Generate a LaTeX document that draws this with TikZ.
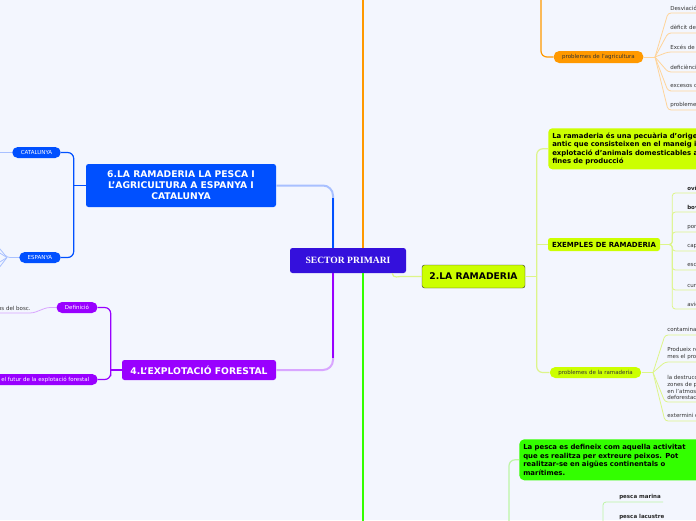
\documentclass[tikz,border=0pt]{standalone}
\usepackage{fontspec}
\setmainfont{Liberation Serif}
\setsansfont{DejaVu Sans}
\usetikzlibrary{positioning}

\definecolor{bgcol}{HTML}{F3F6FE}
\definecolor{spcol}{HTML}{3410DC}
\definecolor{orcol}{HTML}{FF9900}
\definecolor{orlight}{HTML}{FFD49A}
\definecolor{blcol}{HTML}{0050FF}
\definecolor{bllight}{HTML}{A8C0FF}
\definecolor{pucol}{HTML}{9900FF}
\definecolor{pulight}{HTML}{D9A6FF}
\definecolor{licol}{HTML}{CCFF00}
\definecolor{lilight}{HTML}{DDF58A}
\definecolor{grcol}{HTML}{33FF00}
\definecolor{grlight}{HTML}{BDF5A5}
\definecolor{txtcol}{HTML}{333333}

\begin{document}
\begin{tikzpicture}[x=1pt, y=-1pt, semithick,
                    topic/.style = {rounded corners=2.5pt,
                                    inner sep=0pt,
                                    align=center,
                                    text=white,
                                    font=\sffamily\bfseries\fontsize{9.2}{11}\selectfont},
                    sub/.style = {rounded corners=5.5pt,
                                  inner xsep=8.5pt,
                                  inner ysep=0pt,
                                  minimum height=11pt,
                                  text=white,
                                  font=\sffamily\fontsize{5.5}{6.6}\selectfont},
                    defbox/.style = {rounded corners=4pt,
                                     anchor=north west,
                                     inner xsep=4pt,
                                     inner ysep=3pt,
                                     minimum height=41pt,
                                     text width=200pt,
                                     align=left,
                                     text=black,
                                     font=\sffamily\bfseries\fontsize{6.9}{8.5}\selectfont},
                    leaf/.style = {anchor=south west,
                                   inner xsep=2pt,
                                   inner ysep=2pt,
                                   align=left,
                                   text=txtcol,
                                   font=\sffamily\fontsize{5.5}{6.6}\selectfont},
                    boldleaf/.style = {leaf, text=black!85,
                                       font=\sffamily\bfseries\fontsize{5.5}{6.6}\selectfont},
                    mainline/.style = {line width=2pt, rounded corners=10pt},
                    subline/.style = {line width=1.2pt, rounded corners=6pt},
                    leafline/.style = {line width=0.8pt, rounded corners=3pt}]

\useasboundingbox (0,0) rectangle (696,520);
\clip (0,0) rectangle (696,520);
\fill[bgcol] (0,0) rectangle (696,520);

\node[topic, fill=spcol, minimum width=116pt, minimum height=25pt,
      font=\rmfamily\bfseries\fontsize{9.6}{11}\selectfont] (sp) at (348,260.5) {SECTOR PRIMARI};

\node[topic, fill=licol, draw=black!80, thin, text=black,
      minimum width=103pt, minimum height=23pt] (ram) at (473.5,276.5) {2.LA RAMADERIA};
\node[topic, fill=blcol, minimum width=190pt, minimum height=43pt] (esp6) at (181,185.5)
     {6.LA RAMADERIA LA PESCA I\\L'AGRICULTURA A ESPANYA I\\CATALUNYA};
\node[topic, fill=pucol, minimum width=154pt, minimum height=20pt] (for) at (199,370) {4.L'EXPLOTACIÓ FORESTAL};

\node[defbox, fill=licol] (rdef) at (548,128)
     {La ramaderia és una pecuària d'origen\\antic que consisteixen en el maneig i\\explotació d'animals domesticables amb\\fines de producció};
\node[topic, fill=licol, text=black, minimum width=112pt, minimum height=13pt,
      font=\sffamily\bfseries\fontsize{7}{8}\selectfont] (rex) at (604,244.5) {EXEMPLES DE RAMADERIA};
\node[sub, fill=licol, text=txtcol] (rprob) at (595.5,372.5) {problemes de la ramaderia};
\node[sub, fill=orcol, text=txtcol, minimum height=12pt] (agr) at (598.5,57) {problemes de l'agricultura};
\node[defbox, fill=grcol, rounded corners=5pt] (pdef) at (519,439)
     {La pesca es defineix com aquella activitat\\que es realitza per extreure peixos. Pot\\realitzar-se en aigües continentals o\\marítimes.};

\node[sub, fill=blcol] (cat) at (36.5,152.5) {CATALUNYA};
\node[sub, fill=blcol] (esp) at (40,257.5) {ESPANYA};
\node[sub, fill=pucol] (def) at (77,307.5) {Definició};
\node[sub, fill=pucol, anchor=east] (fut) at (98,379.5) {el futur de la explotació forestal};

\node[leaf] (a1) at (668,13) {Desviació de rius};
\node[leaf] (a2) at (668,33) {dèficit de aigua};
\node[leaf] (a3) at (668,52) {Excés de fertilitzants};
\node[leaf] (a4) at (668,72) {deficiència de nutrients};
\node[leaf] (a5) at (668,91) {excesos de pesticides};
\node[leaf] (a6) at (668,110) {problemes del sòl};

\node[boldleaf] (e1) at (685,193) {oví};
\node[boldleaf] (e2) at (685,212) {boví};
\node[leaf] (e3) at (685,232) {porcí};
\node[leaf] (e4) at (685,251) {caprí};
\node[leaf] (e5) at (685,270) {escargols};
\node[leaf] (e6) at (685,290) {cunicultura};
\node[leaf] (e7) at (685,309) {avicultura};

\node[leaf] (r1) at (665,335) {contaminació de l'aigua};
\node[leaf] (r2) at (665,362) {Produeix residus\\mes el problema};
\node[leaf] (r3) at (665,402) {la destrucció de\\zones de pastura\\en l'atmosfera\\deforestació};
\node[leaf] (r4) at (665,421) {extermini d'espècies};

\node[boldleaf] (p1) at (617,502) {pesca marina};
\node[boldleaf] (p2) at (617,522) {pesca lacustre};

\node[leaf, anchor=south east] (bosc) at (33,313) {recursos del bosc.};

\coordinate (ortop) at (363,-5);
\coordinate (grbot) at (363,525);
\coordinate (agrtop) at (541,-5);
\coordinate (pbot) at (509,525);
\coordinate (tbot) at (603,525);
\coordinate (agrfan) at (655,57);
\coordinate (rpfan) at (653,372.5);
\coordinate (catl) at (-5,152.5);
\coordinate (espfan) at (7,257.5);
\coordinate (esp1) at (-5,243);
\coordinate (esp2) at (-5,250);
\coordinate (esp3) at (-5,265);
\coordinate (esp4) at (-5,273);

\draw[mainline, orcol] ([xshift=15pt]sp.north) -- (ortop);
\draw[mainline, grcol] ([xshift=15pt]sp.south) -- (grbot);
\draw[mainline, bllight] (esp6.east) -| ([xshift=-15pt]sp.north);
\draw[mainline, blcol] ([xshift=-15pt]sp.north) -- ++(0,-50);
\draw[mainline, pulight] (for.east) -| ([xshift=-15pt]sp.south);
\draw[mainline, pucol] ([xshift=-15pt]sp.south) -- ++(0,85);
\draw[subline, lilight] ([xshift=-14pt]sp.south east) to[out=-90, in=180] ([xshift=-16pt]ram.west) -- (ram.west);

\draw[subline, orcol] (agrtop) |- (agr.west);
\draw[leafline, orlight] (agr.east) -- (agrfan);
\draw[leafline, orlight] (agrfan) -- (a1.south west) -- (a1.south east);
\draw[leafline, orlight] (agrfan) -- (a2.south west) -- (a2.south east);
\draw[leafline, orlight] (agrfan) -- (a3.south west) -- (a3.south east);
\draw[leafline, orlight] (agrfan) -- (a4.south west) -- (a4.south east);
\draw[leafline, orlight] (agrfan) -- (a5.south west) -- (a5.south east);
\draw[leafline, orlight] (agrfan) -- (a6.south west) -- (a6.south east);

\draw[subline, lilight] (ram.east) -- ++(12,0);
\draw[subline, lilight] (rdef.west) -| ([xshift=-11pt]rex.west) |- (rprob.west);
\draw[subline, lilight] (rex.west) -- ++(-11,0);

\draw[leafline, lilight] (rex.east) -- ++(12,0) |- (e1.south east);
\draw[leafline, lilight] (rex.east) -- ++(12,0) |- (e2.south east);
\draw[leafline, lilight] (rex.east) -- ++(12,0) |- (e3.south east);
\draw[leafline, lilight] (rex.east) -- ++(12,0) |- (e4.south east);
\draw[leafline, lilight] (rex.east) -- ++(12,0) |- (e5.south east);
\draw[leafline, lilight] (rex.east) -- ++(12,0) |- (e6.south east);
\draw[leafline, lilight] (rex.east) -- ++(12,0) |- (e7.south east);

\draw[leafline, lilight] (rprob.east) -- (rpfan);
\draw[leafline, lilight] (rpfan) -- (r1.south west) -- (r1.south east);
\draw[leafline, lilight] (rpfan) -- (r2.south west) -- (r2.south east);
\draw[leafline, lilight] (rpfan) -- (r3.south west) -- (r3.south east);
\draw[leafline, lilight] (rpfan) -- (r4.south west) -- (r4.south east);

\draw[subline, grlight] (pbot) |- (pdef.west);
\draw[leafline, grlight] (tbot) |- (p1.south east);
\draw[leafline, grlight] (tbot) |- (p2.south east);

\draw[subline, blcol] (esp6.west) -- ++(-12,0);
\draw[subline, blcol] (cat.east) -| ([xshift=-12pt]esp6.west) |- (esp.east);
\draw[subline, bllight] (cat.west) -- (catl);
\draw[leafline, bllight] (esp.west) -- (espfan) -- (esp1);
\draw[leafline, bllight] (espfan) -- (esp2);
\draw[leafline, bllight] (espfan) -- (esp3);
\draw[leafline, bllight] (espfan) -- (esp4);

\draw[subline, pucol] (for.west) -- ++(-11,0);
\draw[subline, pucol] (def.east) -| ([xshift=-11pt]for.west) |- (fut.east);
\draw[leafline, pulight] (def.west) -- ++(-9,0) -- (bosc.south east) -- (bosc.south west);

\end{tikzpicture}
\end{document}
